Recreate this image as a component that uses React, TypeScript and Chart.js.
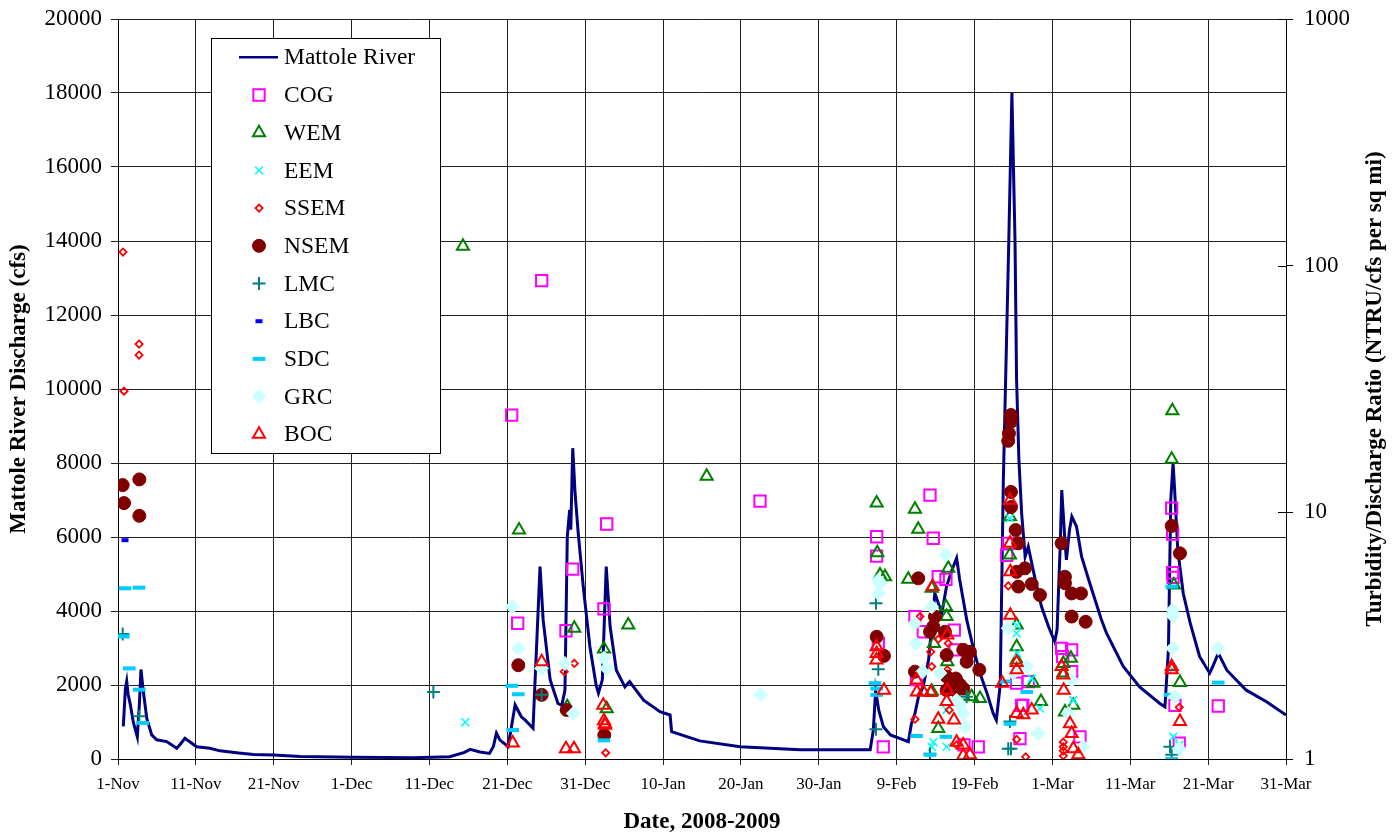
import React, { useEffect, useRef } from 'react';
import { Chart, registerables } from 'chart.js';
import { drawPoint } from 'chart.js/helpers';

Chart.register(...registerables);

const FONT = '"Liberation Serif", "Times New Roman", serif';

// x = days since 1-Nov-2008
const xTickLabels = ['1-Nov', '11-Nov', '21-Nov', '1-Dec', '11-Dec', '21-Dec', '31-Dec', '10-Jan', '20-Jan', '30-Jan', '9-Feb', '19-Feb', '1-Mar', '11-Mar', '21-Mar', '31-Mar'];
const leftTicks = [0, 2000, 4000, 6000, 8000, 10000, 12000, 14000, 16000, 18000, 20000];
const rightTicks = [1, 10, 100, 1000];

type Pt = [number, number];

// Mattole River discharge (cfs)
const mattoleRiver: Pt[] = [
  [0.68, 880], [0.95, 1900], [1.12, 2100], [1.3, 1750], [1.6, 1450], [1.96, 1000], [2.48, 600], [2.75, 1500],
  [2.95, 2420], [3.24, 1850], [3.69, 1100], [4.33, 650], [4.97, 520], [6.25, 470], [7.54, 290], [8.0, 400],
  [8.6, 560], [10.1, 330], [11.8, 290], [13.1, 220], [15.5, 160], [17.4, 120], [20.0, 110], [23.4, 70],
  [30.2, 50], [37.9, 35], [42.6, 60], [44.5, 180], [45.2, 260], [46.5, 190], [47.7, 150], [48.2, 330],
  [48.6, 700], [49.05, 510], [50.1, 340], [51.0, 1460], [51.8, 1140], [52.3, 1050], [53.3, 830], [54.2, 5200],
  [54.6, 3760], [55.5, 2140], [56.5, 1500], [57.0, 1450], [57.4, 1860], [57.7, 6010], [58.0, 6730], [58.15, 6200],
  [58.4, 8400], [58.7, 7190], [59.1, 6110], [59.75, 4660], [60.6, 3040], [61.4, 2000], [61.7, 1780], [62.2, 2140],
  [62.7, 5200], [63.2, 3580], [64.0, 2400], [65.1, 1950], [65.7, 2090], [67.5, 1590], [69.6, 1280], [70.9, 1190],
  [71.1, 740], [74.7, 490], [79.9, 330], [87.6, 250], [96.6, 250], [97.0, 780], [97.3, 1850], [97.7, 1320],
  [98.3, 870], [99.2, 650], [101.5, 470], [101.9, 960], [102.35, 1230], [102.8, 1680], [103.4, 1950], [104.1, 2680],
  [104.9, 4480], [105.8, 3940], [106.4, 4660], [107.1, 5110], [107.7, 5430], [108.1, 4840], [109.0, 3760], [109.8, 3040],
  [110.7, 2320], [111.6, 1780], [112.4, 1230], [112.8, 1050], [113.3, 2000], [113.7, 7540], [114.4, 14000], [114.8, 18000],
  [115.2, 14000], [115.4, 10250], [115.7, 8080], [116.05, 6640], [116.5, 5470], [116.9, 5740], [117.8, 4840], [118.6, 4120],
  [119.5, 3580], [120.3, 3170], [120.6, 3500], [121.0, 5740], [121.2, 7270], [121.6, 5920], [121.8, 5380], [122.2, 6200],
  [122.5, 6550], [123.1, 6280], [123.75, 5470], [124.8, 4750], [126.3, 3760], [126.95, 3400], [129.1, 2500], [131.2, 1950],
  [133.8, 1500], [134.45, 1410], [134.9, 2950], [135.2, 7000], [135.5, 8000], [135.7, 7270], [136.1, 5650], [136.8, 4480],
  [137.7, 3670], [138.9, 2770], [140.2, 2320], [140.6, 2500], [141.3, 2860], [142.4, 2400], [144.9, 1860], [147.5, 1550],
  [150.0, 1190],
];

// Turbidity/discharge ratio series (NTRU/cfs per sq mi)
const cog: Pt[] = [
  [54.41, 86.9], [50.56, 24.8], [51.33, 3.55], [57.53, 3.31], [58.39, 5.89], [62.76, 8.97], [62.41, 4.06], [82.45, 11.1],
  [97.43, 7.96], [97.43, 6.65], [97.64, 2.94], [98.28, 1.12], [104.28, 11.75], [104.7, 7.85], [105.34, 5.48], [106.33, 5.35],
  [102.35, 3.78], [103.42, 3.28], [107.4, 3.33], [107.49, 2.77], [102.56, 2.1], [110.48, 1.12], [108.64, 1.14], [114.33, 7.49],
  [114.12, 6.7], [121.19, 2.81], [122.47, 2.77], [122.47, 2.26], [116.05, 1.65], [116.2, 1.65], [115.83, 1.21], [115.41, 2.03],
  [116.9, 2.06], [123.54, 1.23], [121.32, 2.6], [135.32, 10.4], [135.44, 8.17], [135.44, 5.69], [135.5, 5.45], [135.74, 1.65],
  [136.29, 1.16], [141.3, 1.64],
];
const wem: Pt[] = [
  [44.3, 120], [51.5, 8.48], [58.6, 3.39], [62.41, 2.79], [62.76, 1.6], [65.53, 3.49], [57.7, 1.63], [75.6, 14.0],
  [97.43, 10.9], [97.51, 6.86], [97.86, 5.57], [98.5, 5.48], [102.35, 10.3], [102.77, 8.54], [101.49, 5.35], [104.5, 4.92],
  [106.63, 5.93], [106.33, 4.14], [106.4, 3.78], [104.79, 2.94], [106.5, 2.48], [104.5, 1.88], [105.34, 1.33], [109.63, 1.79],
  [110.7, 1.76], [108.55, 1.8], [114.55, 9.6], [114.55, 6.71], [115.41, 3.49], [115.41, 2.85], [115.41, 2.52], [117.55, 2.03],
  [118.53, 1.71], [122.38, 2.56], [121.4, 2.44], [121.4, 2.23], [121.61, 1.55], [122.68, 1.65], [135.4, 25.8], [135.32, 16.4],
  [135.61, 5.07], [136.38, 2.04],
];
const eem: Pt[] = [
  [44.6, 1.41], [104.7, 1.17], [104.5, 1.12], [106.42, 1.12], [106.42, 1.58], [114.55, 9.45], [115.41, 3.49], [115.41, 3.23],
  [115.5, 2.68], [117.34, 2.12], [118.4, 1.6], [122.68, 1.73], [135.52, 2.3], [135.52, 1.23], [136.29, 1.14],
];
const ssem: Pt[] = [
  [0.64, 113.6], [0.77, 31.0], [2.7, 48.1], [2.7, 43.4], [57.31, 2.26], [58.6, 2.44], [62.63, 1.06], [102.99, 3.78],
  [102.35, 1.45], [105.34, 3.06], [104.37, 2.72], [106.63, 2.94], [104.5, 2.37], [106.5, 2.3], [106.75, 1.58], [107.7, 1.14],
  [114.33, 5.03], [116.57, 1.02], [115.41, 1.2], [121.4, 1.17], [121.4, 1.12], [121.4, 1.08], [121.4, 1.03], [136.29, 1.62],
];
const nsem: Pt[] = [
  [0.6, 12.9], [0.77, 10.9], [2.74, 13.6], [2.74, 9.68], [51.41, 2.4], [54.41, 1.82], [57.62, 1.58], [62.45, 1.25],
  [97.43, 3.13], [98.37, 2.62], [102.77, 5.4], [102.35, 2.26], [104.7, 3.44], [104.28, 3.28], [104.92, 3.78], [106.2, 3.28],
  [106.42, 2.64], [108.55, 2.77], [109.41, 2.72], [108.99, 2.48], [110.61, 2.3], [106.42, 2.16], [107.27, 2.09], [107.6, 2.12],
  [108.13, 2.0], [108.55, 1.93], [106.84, 1.96], [106.42, 1.9], [107.49, 1.9], [114.68, 24.8], [114.68, 23.3], [114.42, 20.9],
  [114.33, 19.5], [114.68, 12.1], [114.68, 10.5], [115.28, 8.48], [115.62, 7.49], [116.48, 5.93], [115.41, 5.74], [115.62, 5.0],
  [117.34, 5.12], [118.4, 4.62], [121.19, 7.49], [121.61, 5.48], [121.61, 5.16], [122.47, 4.69], [123.67, 4.69], [122.47, 3.78],
  [124.27, 3.6], [135.32, 8.81], [136.38, 6.82],
];
const lmc: Pt[] = [
  [0.6, 3.21], [2.74, 1.49], [40.5, 1.87], [54.41, 1.82], [97.34, 4.28], [97.64, 2.31], [97.34, 1.32], [104.28, 1.05],
  [108.99, 1.79], [114.33, 1.1], [114.55, 1.42], [114.68, 1.1], [135.1, 1.12], [135.32, 1.04],
];
const lbc: Pt[] = [[0.9, 7.71]];
const sdc: Pt[] = [
  [0.9, 4.92], [2.7, 4.95], [0.68, 3.14], [1.45, 2.33], [2.74, 1.91], [3.17, 1.4], [50.56, 1.98], [51.41, 1.83],
  [50.69, 1.31], [62.41, 1.19], [97.21, 2.03], [97.43, 1.93], [97.43, 1.82], [102.56, 1.24], [106.33, 1.23], [104.28, 1.04],
  [114.55, 1.39], [116.7, 1.87], [113.9, 2.06], [135.32, 5.0], [135.1, 1.82], [135.32, 1.0], [141.3, 2.04],
];
const grc: Pt[] = [
  [50.64, 4.14], [51.41, 2.81], [54.41, 2.33], [57.4, 2.44], [58.47, 1.53], [62.41, 2.56], [62.76, 2.33], [82.53, 1.82],
  [97.86, 5.15], [97.64, 4.69], [97.64, 5.3], [106.33, 6.71], [104.5, 4.14], [102.35, 3.55], [102.47, 2.94], [103.34, 2.26],
  [105.56, 2.23], [107.7, 1.73], [108.55, 1.53], [108.77, 1.35], [108.13, 1.64], [114.33, 3.39], [116.7, 2.37], [114.97, 2.23],
  [118.19, 1.27], [122.47, 2.09], [122.04, 1.53], [123.96, 1.12], [135.44, 4.02], [135.44, 3.81], [135.44, 2.81], [135.74, 1.79],
  [136.29, 1.1], [141.3, 2.81],
];
const boc: Pt[] = [
  [50.69, 1.16], [54.41, 2.48], [57.53, 1.1], [58.56, 1.1], [62.32, 1.65], [62.54, 1.39], [62.54, 1.37], [62.41, 1.43],
  [97.43, 2.85], [97.43, 2.68], [97.4, 2.52], [98.37, 1.9], [104.62, 5.0], [102.56, 2.09], [102.6, 1.87], [103.42, 1.87],
  [104.37, 1.86], [106.5, 3.18], [106.5, 1.9], [106.42, 1.71], [105.34, 1.45], [107.36, 1.44], [107.7, 1.17], [108.55, 1.14],
  [108.55, 1.03], [109.41, 1.04], [114.55, 11.2], [114.55, 7.49], [114.6, 5.74], [114.6, 3.83], [115.41, 2.46], [115.41, 2.3],
  [113.56, 2.03], [115.41, 1.53], [116.26, 1.51], [117.34, 1.58], [121.19, 2.37], [121.4, 2.19], [121.45, 1.9], [122.26, 1.39],
  [122.47, 1.27], [122.68, 1.1], [123.32, 1.04], [135.32, 2.37], [135.32, 2.3], [136.38, 1.42],
];

const scatterSeries: { label: string; data: Pt[] }[] = [
  { label: 'COG', data: cog },
  { label: 'WEM', data: wem },
  { label: 'EEM', data: eem },
  { label: 'SSEM', data: ssem },
  { label: 'NSEM', data: nsem },
  { label: 'LMC', data: lmc },
  { label: 'LBC', data: lbc },
  { label: 'SDC', data: sdc },
  { label: 'GRC', data: grc },
  { label: 'BOC', data: boc },
];

type MS = { style: string; radius: number; color: string; filled: boolean; bw: number };
const markerStyles: Record<string, MS> = {
  COG: { style: 'rect', radius: 8, color: '#FF00FF', filled: false, bw: 2 },
  WEM: { style: 'triangle', radius: 7, color: '#008000', filled: false, bw: 2 },
  EEM: { style: 'crossRot', radius: 5.5, color: '#00FFFF', filled: false, bw: 1.6 },
  SSEM: { style: 'rectRot', radius: 3.6, color: '#FF0000', filled: false, bw: 1.8 },
  NSEM: { style: 'circle', radius: 6.5, color: '#800000', filled: true, bw: 1 },
  LMC: { style: 'cross', radius: 6.5, color: '#008080', filled: false, bw: 2 },
  LBC: { style: 'line', radius: 3.5, color: '#0000FF', filled: false, bw: 4 },
  SDC: { style: 'line', radius: 6.3, color: '#00CCFF', filled: false, bw: 4 },
  GRC: { style: 'rectRot', radius: 7, color: '#CCFFFF', filled: true, bw: 1 },
  BOC: { style: 'triangle', radius: 7, color: '#FF0000', filled: false, bw: 2 },
};

const LINE_COLOR = '#000080';

const overlayPlugin = {
  id: 'overlay',
  afterDatasetsDraw(chart: any) {
    const ctx: CanvasRenderingContext2D = chart.ctx;
    const area = chart.chartArea;
    ctx.save();
    // inner part of right-axis tick marks
    const y1 = chart.scales.y1;
    ctx.strokeStyle = '#000';
    ctx.lineWidth = 1;
    rightTicks.forEach((v) => {
      const py = Math.round(y1.getPixelForValue(v)) + 0.5;
      ctx.beginPath();
      ctx.moveTo(area.right - 8, py);
      ctx.lineTo(area.right, py);
      ctx.stroke();
    });

    // legend box
    const bx = 211, by = 38, bw = 229, bh = 415;
    ctx.fillStyle = '#fff';
    ctx.fillRect(bx, by, bw, bh);
    ctx.strokeStyle = '#000';
    ctx.lineWidth = 1;
    ctx.strokeRect(bx + 0.5, by + 0.5, bw, bh);
    const rowH = 37.7;
    const y0 = 57.3;
    ctx.font = `23.5px ${FONT}`;
    ctx.textBaseline = 'middle';
    ctx.textAlign = 'left';
    // line entry
    ctx.strokeStyle = LINE_COLOR;
    ctx.lineWidth = 2.5;
    ctx.beginPath();
    ctx.moveTo(239, y0);
    ctx.lineTo(278, y0);
    ctx.stroke();
    ctx.fillStyle = '#000';
    ctx.fillText('Mattole River', 284, y0 + 1);
    scatterSeries.forEach((s, i) => {
      const m = markerStyles[s.label];
      const cy = y0 + rowH * (i + 1);
      ctx.save();
      ctx.strokeStyle = m.color;
      ctx.fillStyle = m.filled ? m.color : 'rgba(0,0,0,0)';
      ctx.lineWidth = m.bw;
      drawPoint(ctx, { pointStyle: m.style as any, radius: m.radius, rotation: 0, borderWidth: m.bw } as any, 259, cy);
      ctx.restore();
      ctx.fillStyle = '#000';
      ctx.fillText(s.label, 284, cy + 1);
    });

    // axis titles
    ctx.fillStyle = '#000';
    ctx.font = `bold 23px ${FONT}`;
    ctx.textAlign = 'center';
    ctx.textBaseline = 'middle';
    const cy = (area.top + area.bottom) / 2;
    ctx.save();
    ctx.translate(19, cy);
    ctx.rotate(-Math.PI / 2);
    ctx.fillText('Mattole River Discharge (cfs)', 0, 0);
    ctx.restore();
    ctx.save();
    ctx.translate(1375, cy);
    ctx.rotate(-Math.PI / 2);
    ctx.fillText('Turbidity/Discharge Ratio (NTRU/cfs per sq mi)', 0, 0);
    ctx.restore();
    ctx.fillText('Date, 2008-2009', (area.left + area.right) / 2, 822);
    ctx.restore();
  },
};

const fixVertical = (w: number) => (s: any) => {
  s.width = w;
  s.paddingTop = 0;
  s.paddingBottom = 0;
};

export default function App() {
  const ref = useRef<HTMLCanvasElement>(null);
  useEffect(() => {
    const datasets: any[] = [
      {
        type: 'line',
        label: 'Mattole River',
        data: mattoleRiver.map(([x, y]) => ({ x, y })),
        borderColor: LINE_COLOR,
        backgroundColor: LINE_COLOR,
        borderWidth: 3,
        pointRadius: 0,
        tension: 0,
        yAxisID: 'y',
        xAxisID: 'x',
        order: 20,
      },
      ...scatterSeries.map((s, i) => {
        const m = markerStyles[s.label];
        return {
          type: 'scatter',
          label: s.label,
          data: s.data.map(([x, y]) => ({ x, y })),
          pointStyle: m.style,
          pointRadius: m.radius,
          pointBorderWidth: m.bw,
          borderWidth: m.bw,
          borderColor: m.color,
          backgroundColor: m.filled ? m.color : 'rgba(0,0,0,0)',
          pointBorderColor: m.color,
          pointBackgroundColor: m.filled ? m.color : 'rgba(0,0,0,0)',
          showLine: false,
          yAxisID: 'y1',
          xAxisID: 'x',
          order: 12 - i,
        };
      }),
    ];
    const chart = new Chart(ref.current as HTMLCanvasElement, {
      type: 'scatter',
      data: { datasets },
      options: {
        responsive: false,
        animation: false,
        devicePixelRatio: 1,
        events: [],
        layout: { autoPadding: false, padding: { top: 19, left: 0, right: 0, bottom: 0 } },
        plugins: { legend: { display: false }, tooltip: { enabled: false }, title: { display: false } },
        scales: {
          x: {
            type: 'linear',
            position: 'bottom',
            min: 0,
            max: 150,
            afterFit: (s: any) => { s.height = 74; s.paddingLeft = 0; s.paddingRight = 0; },
            afterBuildTicks: (s: any) => { s.ticks = xTickLabels.map((_, i) => ({ value: i * 10 })); },
            ticks: {
              autoSkip: false,
              maxRotation: 0,
              padding: 9,
              color: '#000',
              font: { family: FONT, size: 17 },
              callback: (v: any) => xTickLabels[Math.round(Number(v) / 10)] ?? '',
            },
            grid: { color: '#222', lineWidth: 1, tickLength: 6, drawOnChartArea: true },
            border: { display: true, color: '#000', width: 1 },
          },
          y: {
            type: 'linear',
            position: 'left',
            min: 0,
            max: 20000,
            afterFit: fixVertical(118),
            afterBuildTicks: (s: any) => { s.ticks = leftTicks.map((v) => ({ value: v })); },
            ticks: {
              padding: 9,
              color: '#000',
              font: { family: FONT, size: 23 },
              callback: (v: any) => String(v),
            },
            grid: { color: '#222', lineWidth: 1, tickLength: 7 },
            border: { display: true, color: '#000', width: 1 },
          },
          y1: {
            type: 'logarithmic',
            position: 'right',
            min: 1,
            max: 1000,
            afterFit: fixVertical(112),
            afterBuildTicks: (s: any) => { s.ticks = rightTicks.map((v) => ({ value: v })); },
            ticks: {
              padding: 11,
              color: '#000',
              font: { family: FONT, size: 23 },
              callback: (v: any) => String(v),
            },
            grid: { drawOnChartArea: false, color: '#000', tickLength: 7 },
            border: { display: true, color: '#000', width: 1 },
          },
        },
      },
      plugins: [overlayPlugin],
    } as any);
    return () => chart.destroy();
  }, []);
  return (
    <div style={{ position: 'absolute', left: 0, top: 0, width: 1398, height: 833, background: '#fff' }}>
      <canvas ref={ref} width={1398} height={833} style={{ display: 'block', width: 1398, height: 833 }} />
    </div>
  );
}
